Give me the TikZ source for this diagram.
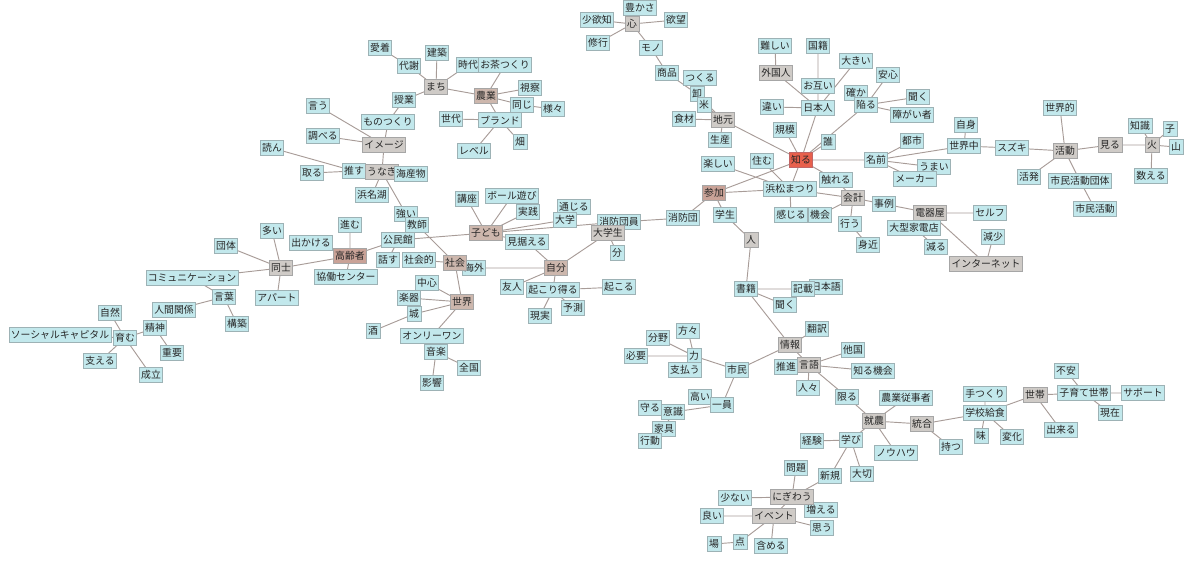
\documentclass[tikz,border=0pt]{standalone}
\usepackage{fontspec}
\setmainfont{Noto Sans CJK JP}
\usepackage{tikz}
\usetikzlibrary{backgrounds}
\definecolor{celeste}{HTML}{C2E8EC}
\definecolor{borde}{HTML}{9DB2B5}
\definecolor{grishub}{HTML}{CFCBC7}
\definecolor{marron}{HTML}{CDB7AD}
\definecolor{marronosc}{HTML}{C9A297}
\definecolor{rojo}{HTML}{E8604C}
\definecolor{linea}{HTML}{A89C98}
\tikzset{
  caja/.style={draw=borde,fill=celeste,font=\fontsize{8.4}{9}\selectfont,inner sep=1.6pt,minimum height=4.4mm,text=black!85},
  cajagris/.style={caja,fill=grishub,draw=gray!70},
  cajamarron/.style={caja,fill=marron,draw=gray!70},
  cajamarronosc/.style={caja,fill=marronosc,draw=gray!70},
  cajaroja/.style={caja,fill=rojo,draw=red!60!black!60},
  enlace/.style={draw=linea,line width=0.8pt},
}

\begin{document}
\begin{tikzpicture}[x=0.03cm,y=-0.03cm]
  \useasboundingbox (0,0) rectangle (1189,561);
  % grupo superior
  \node[caja] (yutakasa) at (640,8) {豊かさ};
  \node[cajagris] (kokoro) at (632,24) {心};
  \node[caja] (shoyoku) at (597,20) {少欲知};
  \node[caja] (yokubo) at (676,20) {欲望};
  \node[caja] (shugyo) at (598,43) {修行};
  \node[caja] (mono) at (651,48) {モノ};
  \node[caja] (shohin) at (667,73) {商品};
  \node[caja] (oroshi) at (697,94) {卸};
  \node[caja] (tsukuru) at (700,78) {つくる};
  \node[caja] (kome) at (704,105) {米};
  \node[cajagris] (jimoto) at (723,120) {地元};
  \node[caja] (shokuzai) at (684,119) {食材};
  \node[caja] (seisan) at (720,140) {生産};
  \node[caja] (muzukashii) at (775,46) {難しい};
  \node[caja] (kokuseki) at (818,46) {国籍};
  \node[cajagris] (gaikokujin) at (776,73) {外国人};
  \node[caja] (ookii) at (856,61) {大きい};
  \node[caja] (otagai) at (818,86) {お互い};
  \node[caja] (nihonjin) at (818,108) {日本人};
  \node[caja] (chigai) at (772,107) {違い};
  \node[caja] (anshin) at (888,75) {安心};
  \node[caja] (tashika) at (856,93) {確か};
  \node[caja] (kiku1) at (918,97) {聞く};
  \node[caja] (ochiiru) at (866,105) {陥る};
  \node[caja] (shogaisha) at (912,115) {障がい者};
  \node[caja] (kibo) at (785,130) {規模};
  \node[caja] (dare) at (828,142) {誰};
  \node[cajaroja] (shiru) at (801,160) {知る};
  \node[caja] (namae) at (876,160) {名前};
  \node[caja] (toshi) at (912,141) {都市};
  \node[caja] (sekaiju) at (964,146) {世界中};
  \node[caja] (jishin) at (966,125) {自身};
  \node[caja] (suzuki) at (1012,148) {スズキ};
  \node[caja] (sekaiteki) at (1060,108) {世界的};
  \node[cajagris] (katsudo) at (1065,151) {活動};
  \node[cajagris] (miru) at (1110,145) {見る};
  \node[caja] (chishiki) at (1140,126) {知識};
  \node[caja] (ko) at (1170,129) {子};
  \node[cajagris] (hi) at (1152,145) {火};
  \node[caja] (yama) at (1176,147) {山};
  \node[caja] (kazoeru) at (1151,176) {数える};
  \node[caja] (kappatsu) at (1029,177) {活発};
  \node[caja] (shiminkd) at (1080,181) {市民活動団体};
  \node[caja] (shiminkatsudo) at (1095,209) {市民活動};
  \node[caja] (umai) at (934,167) {うまい};
  \node[caja] (maker) at (915,179) {メーカー};
  % centro
  \node[caja] (tanoshii) at (718,164) {楽しい};
  \node[caja] (sumu) at (762,161) {住む};
  \node[caja] (fureru) at (836,180) {触れる};
  \node[caja] (matsuri) at (790,189) {浜松まつり};
  \node[cajamarronosc] (sanka) at (714,193) {参加};
  \node[cajagris] (kaikei) at (853,198) {会計};
  \node[caja] (jirei) at (884,204) {事例};
  \node[cajagris] (denkiya) at (930,213) {電器屋};
  \node[caja] (self) at (990,213) {セルフ};
  \node[caja] (ogata) at (914,228) {大型家電店};
  \node[caja] (genshou) at (993,237) {減少};
  \node[caja] (heru) at (936,247) {減る};
  \node[cajagris] (internet) at (986,264) {インターネット};
  \node[caja] (kikai) at (820,215) {機会};
  \node[caja] (kanjiru) at (791,215) {感じる};
  \node[caja] (okonau) at (850,224) {行う};
  \node[caja] (mijika) at (868,245) {身近};
  \node[caja] (shobodan) at (683,218) {消防団};
  \node[caja] (shobodanin) at (619,222) {消防団員};
  \node[caja] (gakusei) at (725,215) {学生};
  \node[cajagris] (hito) at (751,240) {人};
  \node[cajagris] (daigakusei) at (608,233) {大学生};
  \node[caja] (bun) at (617,253) {分};
  \node[caja] (tsujiru) at (574,207) {通じる};
  \node[caja] (daigaku) at (565,220) {大学};
  % grupo inferior derecho
  \node[caja] (shoseki) at (746,289) {書籍};
  \node[caja] (nihongo) at (826,287) {日本語};
  \node[caja] (kisai) at (803,289) {記載};
  \node[caja] (kiku2) at (785,305) {聞く};
  \node[caja] (honyaku) at (817,329) {翻訳};
  \node[cajagris] (joho) at (790,345) {情報};
  \node[caja] (takoku) at (853,350) {他国};
  \node[cajagris] (gengo) at (809,365) {言語};
  \node[caja] (suishin) at (786,367) {推進};
  \node[caja] (shirukikai) at (873,371) {知る機会};
  \node[caja] (hitobito) at (808,388) {人々};
  \node[caja] (kagiru) at (847,397) {限る};
  \node[caja] (noujuji) at (906,398) {農業従事者};
  \node[cajagris] (shuno) at (874,421) {就農};
  \node[cajagris] (togo) at (922,424) {統合};
  \node[caja] (motsu) at (951,447) {持つ};
  \node[caja] (tezukuri) at (985,394) {手つくり};
  \node[caja] (gakkokyushoku) at (985,413) {学校給食};
  \node[caja] (aji) at (981,436) {味};
  \node[caja] (henka) at (1012,437) {変化};
  \node[cajagris] (setai) at (1035,395) {世帯};
  \node[caja] (fuan) at (1066,371) {不安};
  \node[caja] (kosodate) at (1084,393) {子育て世帯};
  \node[caja] (support) at (1143,393) {サポート};
  \node[caja] (dekiru) at (1061,430) {出来る};
  \node[caja] (genzai) at (1110,413) {現在};
  \node[caja] (knowhow) at (896,453) {ノウハウ};
  \node[caja] (manabi) at (851,440) {学び};
  \node[caja] (keiken) at (812,441) {経験};
  \node[caja] (shinki) at (830,476) {新規};
  \node[caja] (taisetsu) at (862,474) {大切};
  \node[caja] (mondai) at (796,468) {問題};
  \node[caja] (fueru) at (821,510) {増える};
  \node[cajagris] (nigiwau) at (792,497) {にぎわう};
  \node[caja] (sukunai) at (735,498) {少ない};
  \node[cajagris] (event) at (774,516) {イベント};
  \node[caja] (yoi) at (712,516) {良い};
  \node[caja] (omou) at (822,528) {思う};
  \node[caja] (ba) at (714,544) {場};
  \node[caja] (ten) at (740,542) {点};
  \node[caja] (fukumeru) at (771,546) {含める};
  \node[caja] (bunya) at (658,338) {分野};
  \node[caja] (katagata) at (688,331) {方々};
  \node[caja] (hitsuyo) at (636,356) {必要};
  \node[caja] (chikara) at (694,356) {力};
  \node[caja] (shiharau) at (685,370) {支払う};
  \node[caja] (shimin) at (737,370) {市民};
  \node[caja] (takai) at (700,397) {高い};
  \node[caja] (ichiin) at (722,405) {一員};
  \node[caja] (mamoru) at (650,408) {守る};
  \node[caja] (ishiki) at (673,412) {意識};
  \node[caja] (kagu) at (664,429) {家具};
  \node[caja] (kodo) at (650,441) {行動};
  % grupo central izquierdo
  \node[caja] (okoru) at (619,287) {起こる};
  \node[caja] (okoriuru) at (553,290) {起こり得る};
  \node[caja] (yujin) at (512,287) {友人};
  \node[caja] (yosoku) at (573,308) {予測};
  \node[caja] (genjitsu) at (540,316) {現実};
  \node[cajamarron] (jibun) at (556,268) {自分};
  \node[caja] (misueru) at (527,242) {見据える};
  \node[cajamarron] (kodomo) at (486,233) {子ども};
  \node[caja] (koza) at (467,199) {講座};
  \node[caja] (ball) at (512,196) {ボール遊び};
  \node[caja] (jissen) at (528,212) {実践};
  \node[caja] (tsuyoi) at (406,214) {強い};
  \node[caja] (kyoshi) at (417,225) {教師};
  \node[caja] (kominkan) at (398,240) {公民館};
  \node[caja] (hanasu) at (388,260) {話す};
  \node[caja] (kaigai) at (474,268) {海外};
  \node[caja] (shakaiteki) at (419,260) {社会的};
  \node[cajamarron] (shakai) at (455,263) {社会};
  \node[cajamarron] (sekai) at (462,302) {世界};
  \node[caja] (chushin) at (427,283) {中心};
  \node[caja] (gakki) at (409,298) {楽器};
  \node[caja] (shiro) at (414,314) {城};
  \node[caja] (sake) at (373,331) {酒};
  \node[caja] (onlyone) at (432,336) {オンリーワン};
  \node[caja] (ongaku) at (436,352) {音楽};
  \node[caja] (zenkoku) at (469,368) {全国};
  \node[caja] (eikyo) at (432,383) {影響};
  % grupo izquierdo
  \node[cajamarronosc] (koreisha) at (350,256) {高齢者};
  \node[caja] (susumu) at (350,225) {進む};
  \node[caja] (dekakeru) at (311,243) {出かける};
  \node[caja] (kyodo) at (346,277) {協働センター};
  \node[cajagris] (doshi) at (281,268) {同士};
  \node[caja] (ooi) at (272,231) {多い};
  \node[caja] (dantai) at (226,246) {団体};
  \node[caja] (comm) at (192,278) {コミュニケーション};
  \node[caja] (apart) at (277,298) {アパート};
  \node[caja] (kotoba) at (224,297) {言葉};
  \node[caja] (ningen) at (174,310) {人間関係};
  \node[caja] (kochiku) at (237,324) {構築};
  \node[caja] (seishin) at (155,328) {精神};
  \node[caja] (shizen) at (110,313) {自然};
  \node[caja] (social) at (60,335) {ソーシャルキャピタル};
  \node[caja] (hagukumu) at (125,338) {育む};
  \node[caja] (juyo) at (172,353) {重要};
  \node[caja] (sasaeru) at (100,361) {支える};
  \node[caja] (seiritsu) at (151,375) {成立};
  % grupo superior izquierdo
  \node[caja] (hamanako) at (372,195) {浜名湖};
  \node[caja] (osu) at (354,171) {推す};
  \node[cajagris] (unagi) at (382,172) {うなぎ};
  \node[caja] (kaisanbutsu) at (411,174) {海産物};
  \node[caja] (toru) at (312,173) {取る};
  \node[caja] (yomun) at (272,148) {読ん};
  \node[caja] (shiraberu) at (323,136) {調べる};
  \node[caja] (iu) at (318,106) {言う};
  \node[cajagris] (image) at (384,145) {イメージ};
  \node[caja] (monotsukuri) at (388,122) {ものつくり};
  \node[caja] (jugyo) at (404,100) {授業};
  \node[cajagris] (machi) at (436,87) {まち};
  \node[caja] (taisha) at (409,66) {代謝};
  \node[caja] (aichaku) at (380,48) {愛着};
  \node[caja] (kenchiku) at (437,53) {建築};
  \node[caja] (jidai) at (468,65) {時代};
  \node[caja] (ochatsukuri) at (505,65) {お茶つくり};
  \node[cajamarron] (nogyo) at (486,96) {農業};
  \node[caja] (shisatsu) at (530,88) {視察};
  \node[caja] (onaji) at (522,105) {同じ};
  \node[caja] (samazama) at (553,109) {様々};
  \node[caja] (brand) at (500,120) {ブランド};
  \node[caja] (sedai) at (451,119) {世代};
  \node[caja] (level) at (474,151) {レベル};
  \node[caja] (hatake) at (520,142) {畑};
  % enlaces
  \begin{scope}[on background layer]
    \draw[enlace] (kokoro) -- (yutakasa) (kokoro) -- (shoyoku) (kokoro) -- (yokubo) (kokoro) -- (shugyo) (kokoro) -- (mono);
    \draw[enlace] (mono) -- (shohin) -- (oroshi) -- (jimoto) (tsukuru) -- (kome) -- (jimoto) (shokuzai) -- (jimoto) (seisan) -- (jimoto) (jimoto) -- (shiru);
    \draw[enlace] (gaikokujin) -- (muzukashii) (gaikokujin) -- (nihonjin) (kokuseki) -- (otagai) -- (nihonjin) (ookii) -- (nihonjin) (chigai) -- (nihonjin) (nihonjin) -- (shiru) (kibo) -- (shiru) (dare) -- (shiru);
    \draw[enlace] (ochiiru) -- (shiru) (ochiiru) -- (anshin) (ochiiru) -- (tashika) (ochiiru) -- (kiku1) (ochiiru) -- (shogaisha);
    \draw[enlace] (shiru) -- (namae) (namae) -- (toshi) (namae) -- (sekaiju) (namae) -- (umai) (namae) -- (maker);
    \draw[enlace] (sekaiju) -- (jishin) (sekaiju) -- (suzuki) -- (katsudo) (sekaiteki) -- (katsudo) (katsudo) -- (miru) (katsudo) -- (kappatsu) (katsudo) -- (shiminkd) -- (shiminkatsudo);
    \draw[enlace] (miru) -- (hi) (hi) -- (chishiki) (hi) -- (ko) (hi) -- (yama) (hi) -- (kazoeru);
    \draw[enlace] (shiru) -- (matsuri) (shiru) -- (sanka) (shiru) -- (fureru) (tanoshii) -- (matsuri) (sumu) -- (matsuri) (sanka) -- (matsuri) (matsuri) -- (kanjiru) (matsuri) -- (kaikei);
    \draw[enlace] (kaikei) -- (fureru) (kaikei) -- (jirei) (kaikei) -- (okonau) -- (mijika) (kaikei) -- (kikai);
    \draw[enlace] (jirei) -- (denkiya) (denkiya) -- (self) (denkiya) -- (ogata) (denkiya) -- (internet) -- (genshou) (ogata) -- (heru);
    \draw[enlace] (sanka) -- (shobodan) -- (shobodanin) -- (daigakusei) (daigakusei) -- (bun) (daigakusei) -- (jibun) (kodomo) -- (shobodanin) (daigaku) -- (tsujiru);
    \draw[enlace] (sanka) -- (gakusei) -- (hito) -- (shoseki) (shoseki) -- (kisai) -- (nihongo) (shoseki) -- (kiku2) (shoseki) -- (joho);
    \draw[enlace] (joho) -- (honyaku) (joho) -- (gengo) (joho) -- (shimin) (gengo) -- (takoku) (gengo) -- (shirukikai) (gengo) -- (suishin) (gengo) -- (hitobito) (gengo) -- (kagiru) -- (shuno);
    \draw[enlace] (shuno) -- (noujuji) (shuno) -- (togo) (shuno) -- (manabi) (shuno) -- (knowhow) (togo) -- (motsu) (togo) -- (gakkokyushoku);
    \draw[enlace] (gakkokyushoku) -- (tezukuri) (gakkokyushoku) -- (aji) (gakkokyushoku) -- (henka) (gakkokyushoku) -- (setai) (setai) -- (kosodate) (setai) -- (dekiru) (kosodate) -- (fuan) (kosodate) -- (support) (kosodate) -- (genzai);
    \draw[enlace] (manabi) -- (keiken) (manabi) -- (shinki) (manabi) -- (taisetsu) (shinki) -- (nigiwau) (nigiwau) -- (mondai) (nigiwau) -- (sukunai) (nigiwau) -- (fueru) (nigiwau) -- (event);
    \draw[enlace] (event) -- (yoi) (event) -- (omou) (event) -- (ten) -- (ba) (event) -- (fukumeru);
    \draw[enlace] (shimin) -- (chikara) (chikara) -- (hitsuyo) (chikara) -- (bunya) (chikara) -- (katagata) (chikara) -- (shiharau) (shimin) -- (ichiin) -- (takai) (ichiin) -- (ishiki) (ishiki) -- (mamoru) (ishiki) -- (kagu) -- (kodo);
    \draw[enlace] (jibun) -- (yujin) (jibun) -- (okoriuru) (okoriuru) -- (okoru) (okoriuru) -- (yosoku) (okoriuru) -- (genjitsu) (jibun) -- (kaigai);
    \draw[enlace] (kodomo) -- (koza) (kodomo) -- (ball) (kodomo) -- (jissen) (kodomo) -- (daigaku) (kodomo) -- (misueru) (kodomo) -- (kominkan) (misueru) -- (jibun);
    \draw[enlace] (unagi) -- (tsuyoi) (tsuyoi) -- (kyoshi) -- (shakai) (kominkan) -- (koreisha) (kominkan) -- (hanasu);
    \draw[enlace] (koreisha) -- (susumu) (koreisha) -- (dekakeru) (koreisha) -- (kyodo) (koreisha) -- (doshi) (doshi) -- (ooi) (doshi) -- (dantai) (doshi) -- (comm) (doshi) -- (apart) (comm) -- (kotoba) -- (kochiku) (kotoba) -- (ningen);
    \draw[enlace] (seishin) -- (juyo) (seishin) -- (hagukumu) (hagukumu) -- (shizen) (hagukumu) -- (social) (hagukumu) -- (sasaeru) (hagukumu) -- (seiritsu);
    \draw[enlace] (shakai) -- (sekai) (shakai) -- (shakaiteki) (shakai) -- (kaigai) (sekai) -- (chushin) (sekai) -- (gakki) (sekai) -- (shiro) -- (sake) (sekai) -- (onlyone) -- (ongaku) (ongaku) -- (zenkoku) (ongaku) -- (eikyo);
    \draw[enlace] (hamanako) -- (unagi) (unagi) -- (image) (unagi) -- (kaisanbutsu) (unagi) -- (osu) (osu) -- (toru) (osu) -- (yomun);
    \draw[enlace] (image) -- (shiraberu) (image) -- (iu) (image) -- (monotsukuri) -- (jugyo) -- (machi) (machi) -- (taisha) -- (aichaku) (machi) -- (kenchiku) (machi) -- (jidai) (machi) -- (nogyo);
    \draw[enlace] (nogyo) -- (ochatsukuri) (nogyo) -- (shisatsu) (nogyo) -- (onaji) -- (samazama) (nogyo) -- (brand) (brand) -- (sedai) (brand) -- (level) (brand) -- (hatake);
  \end{scope}
\end{tikzpicture}
\end{document}
